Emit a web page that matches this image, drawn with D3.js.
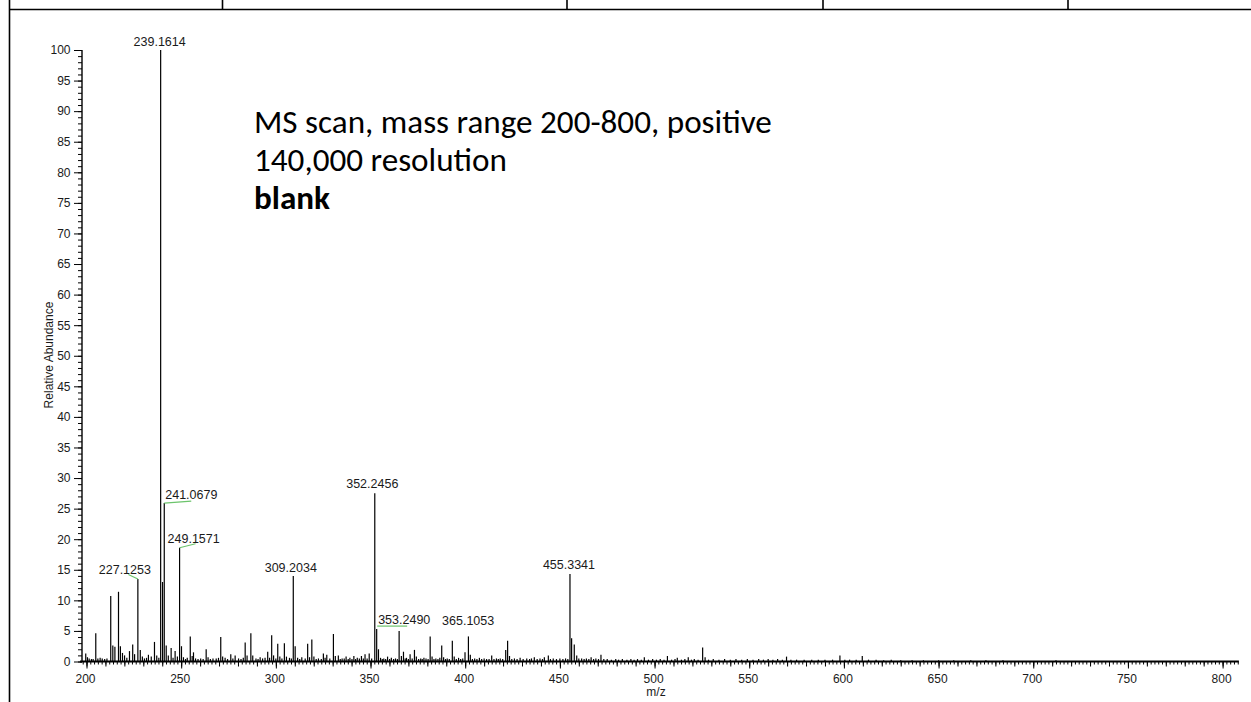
<!DOCTYPE html>
<html>
<head>
<meta charset="utf-8">
<script src="https://d3js.org/d3.v7.min.js"></script>
<style>
  body { margin: 0; background: #fff; }
  svg { display: block; }
  .axis text { font-family: Arial, "Liberation Sans", sans-serif; font-size: 12px; fill: #1a1a1a; }
  .axis path, .axis line { stroke: #000; }
</style>
</head>
<body>
<div id="chart"></div>
<script>
// spectrum peaks: [m/z, relative abundance %]
var spectrum = [
  [199.6, 1.3], [200.5, 0.7], [201.4, 0.5], [202.6, 0.4], [203.5, 0.4], [204.9, 4.6], [206.0, 0.5],
  [207.2, 0.6], [208.3, 0.5], [209.6, 0.4], [210.8, 0.5], [212.8, 10.7], [213.9, 2.6], [215.0, 2.4],
  [216.9, 11.4], [217.9, 2.5], [219.0, 1.4], [220.1, 1.0], [221.3, 0.6], [222.7, 1.7], [224.4, 2.8],
  [225.4, 1.2], [227.1253, 13.5], [228.4, 1.9], [229.5, 0.8], [230.6, 0.5], [231.7, 0.6], [232.7, 1.1],
  [234.2, 0.8], [235.9, 3.2], [237.1, 1.0], [238.2, 0.6], [239.1614, 100], [240.16, 13.0],
  [241.0679, 25.9], [242.1, 2.6], [243.2, 1.0], [244.7, 2.2], [245.7, 0.6], [246.8, 1.7], [248.0, 0.8],
  [249.1571, 18.6], [250.16, 2.5], [251.2, 0.7], [252.3, 0.4], [253.2, 0.6], [254.8, 4.1], [255.8, 0.9],
  [256.5, 1.5], [257.6, 0.5], [258.9, 0.4], [260.3, 0.5], [261.6, 0.4], [263.2, 2.0], [264.2, 0.7],
  [265.4, 0.4], [266.8, 0.5], [268.5, 0.5], [269.7, 0.6], [270.9, 4.0], [271.9, 0.8], [273.2, 0.6],
  [274.5, 0.4], [276.2, 1.2], [277.3, 0.5], [278.5, 1.0], [280.3, 0.5], [281.6, 0.4], [282.8, 0.6],
  [283.8, 3.1], [284.8, 1.0], [286.8, 4.6], [287.8, 1.0], [289.5, 0.5], [290.6, 0.4], [291.7, 0.7],
  [293.0, 0.5], [294.3, 0.6], [295.7, 1.6], [296.7, 0.6], [297.8, 4.3], [298.8, 1.0], [300.0, 0.5],
  [301.0, 2.9], [302.1, 0.8], [303.2, 0.5], [304.5, 3.0], [305.6, 0.8], [307.2, 0.6], [308.2, 0.5],
  [309.2034, 14.0], [310.2, 2.5], [311.5, 0.6], [312.6, 0.4], [313.7, 0.7], [315.5, 0.5], [316.8, 2.9],
  [317.8, 0.7], [319.0, 3.6], [320.1, 0.8], [321.3, 0.4], [322.5, 0.5], [324.0, 0.4], [325.1, 1.3],
  [326.0, 0.6], [326.9, 1.1], [328.5, 0.5], [330.4, 4.5], [331.4, 0.9], [333.0, 1.0], [334.0, 0.4],
  [335.0, 0.5], [336.1, 0.5], [337.1, 0.8], [338.2, 0.4], [339.1, 0.6], [340.2, 0.4], [341.2, 0.9],
  [342.1, 0.4], [343.0, 0.6], [344.1, 0.5], [345.2, 0.9], [346.2, 0.5], [347.1, 1.2], [348.2, 0.5],
  [349.3, 1.3], [350.6, 0.5], [352.2456, 27.5], [353.2490, 5.3], [354.2, 2.0], [355.3, 0.6],
  [356.2, 0.4], [357.0, 0.5], [358.0, 0.4], [359.0, 0.8], [360.1, 0.4], [361.0, 0.6], [362.2, 0.4],
  [363.2, 0.5], [364.2, 0.4], [365.1053, 5.0], [366.3, 0.9], [367.4, 1.6], [368.3, 0.5], [369.0, 0.6],
  [370.0, 0.4], [370.9, 1.2], [372.0, 0.5], [373.2, 1.9], [374.2, 0.8], [375.4, 0.4], [376.5, 0.5],
  [377.3, 0.4], [378.2, 0.6], [379.3, 0.5], [380.4, 0.4], [381.5, 4.1], [382.5, 0.8], [383.5, 0.4],
  [384.5, 0.5], [385.6, 0.4], [386.6, 0.6], [387.6, 2.6], [388.6, 0.7], [389.6, 0.4], [390.5, 0.5],
  [391.6, 0.4], [393.2, 3.4], [394.2, 0.8], [395.3, 0.4], [396.5, 0.6], [397.6, 0.4], [398.7, 0.5],
  [399.9, 1.5], [401.7, 4.1], [402.7, 1.1], [403.8, 0.4], [405.0, 0.5], [406.2, 0.4], [407.5, 0.6],
  [408.7, 0.4], [410.0, 0.5], [411.3, 0.4], [412.6, 0.4], [414.0, 1.0], [415.2, 0.4], [416.5, 0.5],
  [417.5, 0.4], [418.5, 0.5], [419.8, 0.4], [421.4, 1.9], [422.4, 3.4], [423.4, 0.9], [424.6, 0.4],
  [426.0, 0.5], [427.4, 0.4], [429.0, 0.6], [430.6, 0.4], [432.5, 0.5], [434.0, 0.4], [435.0, 0.5],
  [436.5, 0.7], [438.0, 0.4], [439.5, 0.5], [440.8, 0.4], [441.8, 0.7], [443.9, 1.0], [445.0, 0.4],
  [446.5, 0.5], [448.2, 0.4], [450.0, 0.5], [451.6, 0.4], [453.0, 0.5], [454.2, 0.4],
  [455.3341, 14.3], [456.2, 3.8], [457.6, 2.8], [458.9, 1.0], [460.0, 0.5], [461.5, 0.5], [462.8, 0.4],
  [464.0, 0.5], [465.3, 0.4], [466.5, 0.7], [467.8, 0.4], [469.0, 0.5], [470.4, 0.4], [471.7, 1.1],
  [473.2, 0.4], [475.0, 0.4], [477.2, 0.3], [479.5, 0.4], [481.0, 0.3], [483.0, 0.4], [485.4, 0.3],
  [487.5, 0.4], [489.2, 0.3], [491.0, 0.4], [493.0, 0.3], [494.6, 0.7], [496.8, 0.3], [499.0, 0.4],
  [501.0, 0.3], [503.0, 0.4], [505.0, 0.3], [506.8, 0.9], [509.0, 0.3], [510.8, 0.4], [512.0, 0.6],
  [514.2, 0.3], [516.0, 0.4], [517.8, 0.7], [519.5, 0.3], [521.0, 0.4], [523.0, 0.3], [525.4, 2.3],
  [526.7, 0.7], [528.5, 0.3], [531.0, 0.4], [534.0, 0.3], [537.0, 0.4], [540.0, 0.3], [543.0, 0.4],
  [546.0, 0.3], [549.0, 0.4], [552.0, 0.3], [555.0, 0.4], [557.5, 0.3], [560.0, 0.4], [562.5, 0.3],
  [565.0, 0.4], [567.5, 0.3], [569.7, 0.8], [572.0, 0.3], [575.0, 0.3], [579.0, 0.3], [583.0, 0.3],
  [586.5, 0.3], [590.0, 0.3], [594.0, 0.3], [597.9, 1.0], [600.5, 0.3], [603.0, 0.3], [606.5, 0.3],
  [609.7, 0.9], [613.0, 0.3], [617.0, 0.3], [621.0, 0.2], [625.0, 0.3], [630.0, 0.2], [636.0, 0.2],
  [642.0, 0.2], [650.0, 0.2], [658.0, 0.2], [667.0, 0.2], [675.0, 0.2], [684.0, 0.2], [712.0, 0.2]
];

// labelled peaks
var peakLabels = ["239.1614", "241.0679", "249.1571", "227.1253", "309.2034",
  "352.2456", "353.2490", "365.1053", "455.3341"];

var xTickValues = [200, 250, 300, 350, 400, 450, 500, 550, 600, 650, 700, 750, 800];
var yTickValues = [0, 5, 10, 15, 20, 25, 30, 35, 40, 45, 50, 55, 60, 65, 70, 75, 80, 85, 90, 95, 100];

var noteLines = ["MS scan, mass range 200-800, positive", "140,000 resolution", "blank"];

var svgWidth = 1251;
var svgHeight = 702;

var svg = d3.select("#chart")
  .append("svg")
  .attr("width", svgWidth)
  .attr("height", svgHeight);

// table cell borders around the figure
var border = svg.append("g")
  .attr("stroke", "#000")
  .attr("stroke-width", 1.6);
border.append("line").attr("x1", 9.5).attr("x2", svgWidth).attr("y1", 9.5).attr("y2", 9.5);
border.append("line").attr("x1", 9.5).attr("x2", 9.5).attr("y1", 0).attr("y2", svgHeight);
[222.5, 567, 823, 1068].forEach(function(cx) {
  border.append("line").attr("x1", cx).attr("x2", cx).attr("y1", 0).attr("y2", 9.5);
});

// scales
var xScale = d3.scaleLinear().domain([200, 800]).range([86.5, 1222.6]);
var yScale = d3.scaleLinear().domain([0, 100]).range([661.5, 50]);
var yAxisX = 82;

// minor ticks first (no labels)
svg.append("g")
  .attr("class", "axis")
  .attr("transform", `translate(0, ${yScale(0)})`)
  .call(d3.axisBottom(xScale).tickValues(d3.range(198, 809, 2)).tickSize(3).tickFormat(""))
  .call(g => g.select(".domain").remove());

svg.append("g")
  .attr("class", "axis")
  .attr("transform", `translate(0, ${yScale(0)})`)
  .call(d3.axisBottom(xScale).tickValues(d3.range(200, 809, 10)).tickSize(5).tickFormat(""))
  .call(g => g.select(".domain").remove());

svg.append("g")
  .attr("class", "axis")
  .attr("transform", `translate(${yAxisX}, 0)`)
  .call(d3.axisLeft(yScale).tickValues(d3.range(0, 101, 1)).tickSize(4).tickFormat(""))
  .call(g => g.select(".domain").remove());

// major x axis
var xAxis = svg.append("g")
  .attr("class", "axis")
  .attr("transform", `translate(0, ${yScale(0)})`)
  .call(d3.axisBottom(xScale).tickValues(xTickValues).tickSize(7).tickPadding(6).tickSizeOuter(0));
xAxis.select(".domain").remove();
xAxis.selectAll(".tick text").attr("dx", -1.5);

// major y axis
var yAxis = svg.append("g")
  .attr("class", "axis")
  .attr("transform", `translate(${yAxisX}, 0)`)
  .call(d3.axisLeft(yScale).tickValues(yTickValues).tickSize(8).tickPadding(3.5).tickSizeOuter(0));
yAxis.select(".domain").remove();

// axis lines
svg.append("line")
  .attr("x1", yAxisX - 2).attr("x2", xScale(808.6))
  .attr("y1", yScale(0)).attr("y2", yScale(0))
  .attr("stroke", "#000").attr("stroke-width", 1.8);
svg.append("line")
  .attr("x1", yAxisX).attr("x2", yAxisX)
  .attr("y1", yScale(0)).attr("y2", yScale(100))
  .attr("stroke", "#000").attr("stroke-width", 1.4);

// spectrum sticks
svg.append("g")
  .selectAll("line")
  .data(spectrum)
  .enter()
  .append("line")
  .attr("x1", d => xScale(d[0]))
  .attr("x2", d => xScale(d[0]))
  .attr("y1", yScale(0))
  .attr("y2", d => yScale(d[1]))
  .attr("stroke", "#000")
  .attr("stroke-width", 1.2);

// label placement relative to the peak top (pixels)
var labelPlacement = {
  "239.1614": { anchor: "middle", dx: -1, dy: -4 },
  "241.0679": { anchor: "start", dx: 1, dy: -4, lead: [0, 0, 27, -2] },
  "249.1571": { anchor: "start", dx: -12, dy: -4.5, lead: [0, 0, 16, -4] },
  "227.1253": { anchor: "middle", dx: -13, dy: -5, lead: [0, 0, -9.5, -4.5] },
  "309.2034": { anchor: "middle", dx: -2.5, dy: -4 },
  "352.2456": { anchor: "middle", dx: -2.5, dy: -5 },
  "353.2490": { anchor: "start", dx: 1.5, dy: -5, lead: [0.5, -3, 30.5, -3] },
  "365.1053": { anchor: "middle", dx: 69, dy: -6 },
  "455.3341": { anchor: "middle", dx: -1, dy: -5.5 }
};

var labelGroup = svg.append("g");
peakLabels.forEach(function(lab) {
  var mz = +lab;
  var peak = spectrum.reduce((a, b) => Math.abs(b[0] - mz) < Math.abs(a[0] - mz) ? b : a);
  var px = xScale(peak[0]);
  var py = yScale(peak[1]);
  var p = labelPlacement[lab];

  if (p.lead) {
    labelGroup.append("line")
      .attr("x1", px + p.lead[0]).attr("y1", py + p.lead[1])
      .attr("x2", px + p.lead[2]).attr("y2", py + p.lead[3])
      .attr("stroke", "#6cc46c")
      .attr("stroke-width", 1.2);
  }

  labelGroup.append("text")
    .attr("x", px + p.dx)
    .attr("y", py + p.dy)
    .attr("text-anchor", p.anchor)
    .attr("font-family", "Arial, 'Liberation Sans', sans-serif")
    .attr("font-size", "12.5px")
    .attr("fill", "#1a1a1a")
    .text(lab);
});

// axis titles
svg.append("text")
  .attr("transform", "translate(53, 355) rotate(-90)")
  .attr("text-anchor", "middle")
  .attr("font-family", "Arial, 'Liberation Sans', sans-serif")
  .attr("font-size", "12px")
  .attr("fill", "#1a1a1a")
  .text("Relative Abundance");

svg.append("text")
  .attr("x", 656)
  .attr("y", 696)
  .attr("text-anchor", "middle")
  .attr("font-family", "Arial, 'Liberation Sans', sans-serif")
  .attr("font-size", "12px")
  .attr("fill", "#1a1a1a")
  .text("m/z");

// annotation block
var note = svg.append("g")
  .attr("font-family", "Calibri, Carlito, Lato, sans-serif")
  .attr("fill", "#000");

var noteText = note.selectAll("text")
  .data(noteLines)
  .enter()
  .append("text")
  .attr("x", 254)
  .attr("y", (d, i) => 133 + i * 38)
  .attr("font-size", "30px")
  .attr("font-weight", (d, i) => i === 2 ? "bold" : "normal")
  .text(d => d);

// fit the font so the first line spans the same width as in the picture
var firstLen = noteText.node().getComputedTextLength();
noteText.attr("font-size", (30 * 518 / firstLen) + "px");
</script>
</body>
</html>
